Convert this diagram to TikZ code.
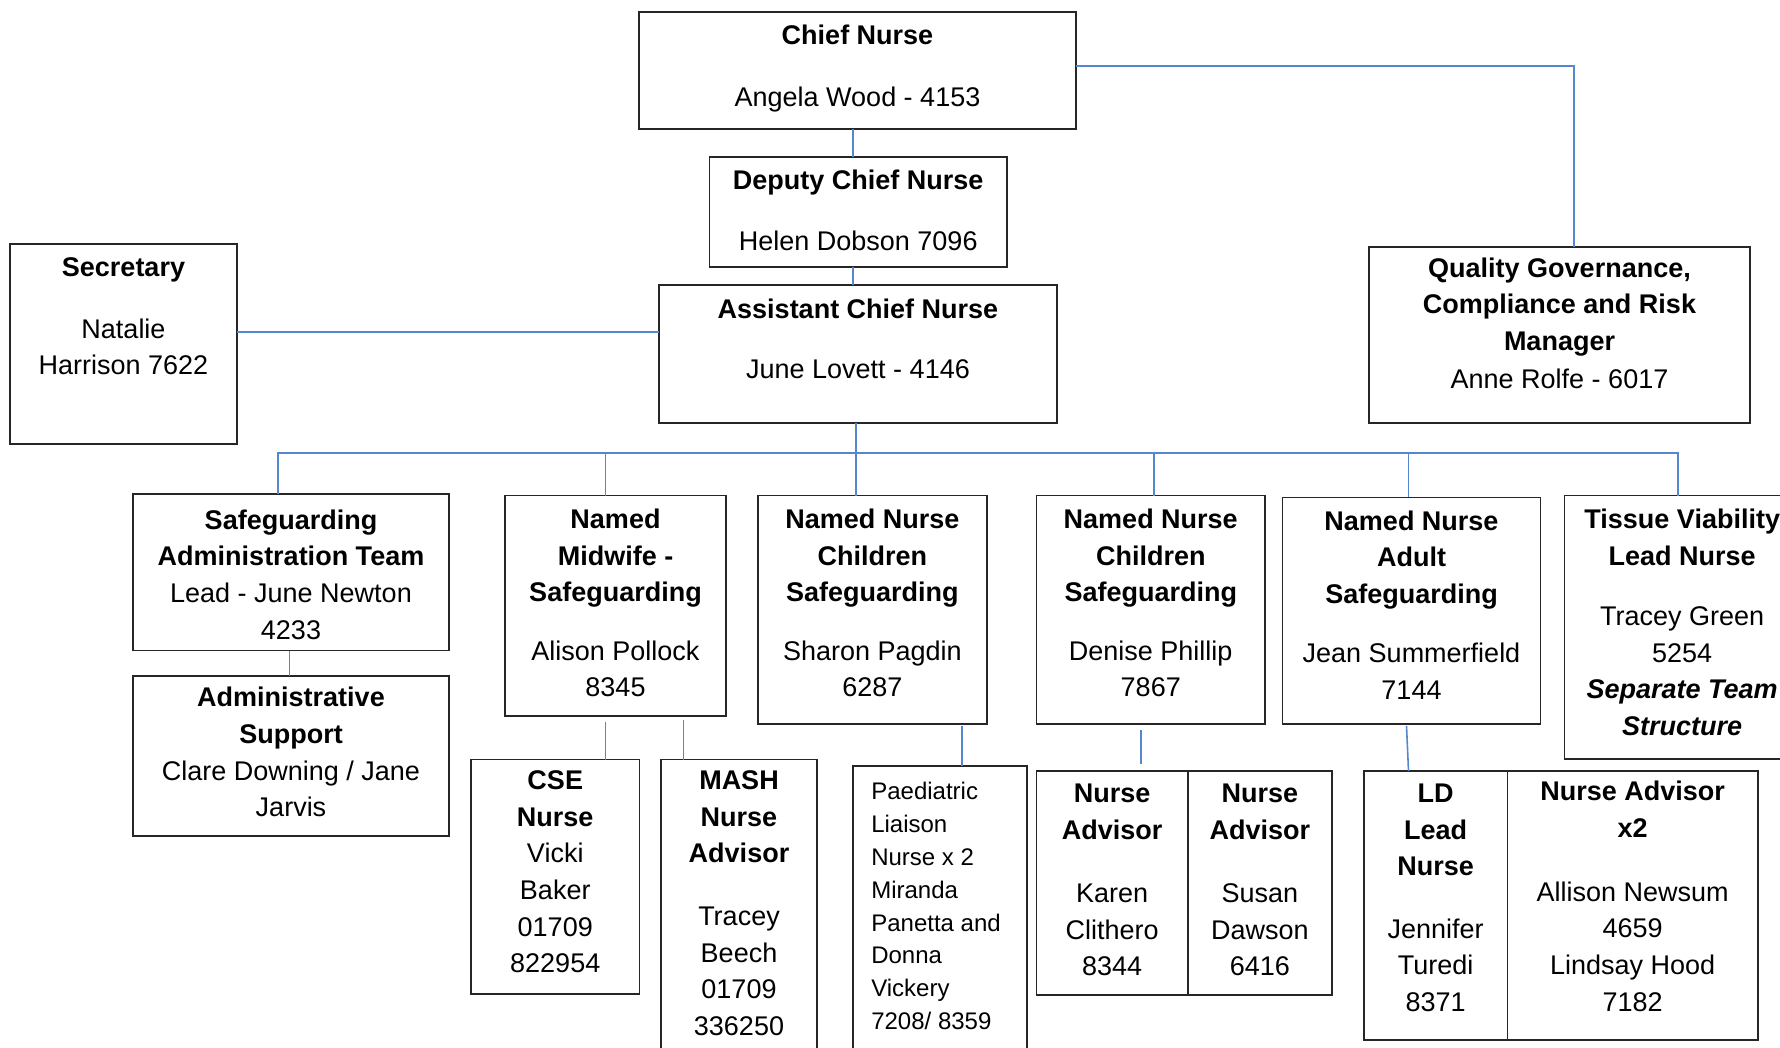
\documentclass[tikz,border=0pt]{standalone}
\usepackage{fontspec}
\setmainfont{Liberation Sans}
\definecolor{connblue}{RGB}{84,135,205}
\newcommand{\bt}[4]{\parbox[c][#2pt][t]{#1pt}{\centering\vspace*{\dimexpr #3pt-\ht\strutbox\relax}\strut #4}}
\tikzset{
  bx/.style={draw=black!85, line width=1.6pt, inner sep=0pt, outer sep=0pt, fill=white, anchor=north west, font=\fontsize{27}{36.6}\selectfont},
  conn/.style={draw=connblue, line width=1.6pt}
}
\begin{document}
\begin{tikzpicture}[x=1pt,y=-1pt]
\useasboundingbox (0,0) rectangle (1780,1048);
\clip (0,0) rectangle (1780,1048);
\coordinate (bus) at (0,453);
% top levels
\node[bx] (chief) at (639,12) {\bt{437}{117}{33}{\textbf{Chief Nurse}\\[25pt]Angela Wood - 4153}};
\node[bx] (dep) at (709.5,157) {\bt{297.5}{110}{33}{\textbf{Deputy Chief Nurse}\\[24pt]Helen Dobson 7096}};
\node[bx] (asst) at (659,285) {\bt{398}{138}{33.3}{\textbf{Assistant Chief Nurse}\\[24pt]June Lovett - 4146}};
\node[bx] (sec) at (10,244) {\bt{227}{200}{32.7}{\textbf{Secretary}\\[25pt]Natalie\\Harrison 7622}};
\node[bx] (qg) at (1369,247) {\bt{381}{176}{30.3}{\textbf{Quality Governance,}\\\textbf{Compliance and Risk}\\\textbf{Manager}\\[1.5pt]Anne Rolfe - 6017}};
% second row
\node[bx] (sa) at (133,494) {\bt{316}{156.5}{35.2}{\textbf{Safeguarding}\\\textbf{Administration Team}\\Lead - June Newton\\4233}};
\node[bx] (as) at (133,676) {\bt{316}{160}{30.8}{\textbf{Administrative}\\\textbf{Support}\\Clare Downing / Jane\\Jarvis}};
\node[bx] (mw) at (505,495.5) {\bt{221}{220.2}{32.9}{\textbf{Named}\\\textbf{Midwife -}\\\textbf{Safeguarding}\\[22pt]Alison Pollock\\8345}};
\node[bx] (nnc1) at (758,495.5) {\bt{228.7}{228.5}{32.9}{\textbf{Named Nurse}\\\textbf{Children}\\\textbf{Safeguarding}\\[22pt]Sharon Pagdin\\6287}};
\node[bx] (nnc2) at (1036.5,495.5) {\bt{228.5}{228.5}{32.9}{\textbf{Named Nurse}\\\textbf{Children}\\\textbf{Safeguarding}\\[22pt]Denise Phillip\\7867}};
\node[bx] (nna) at (1282.5,497.4) {\bt{258}{226.6}{32.6}{\textbf{Named Nurse}\\\textbf{Adult}\\\textbf{Safeguarding}\\[22.6pt]Jean Summerfield\\7144}};
\node[bx] (tv) at (1564.4,495.5) {\bt{235.6}{263.5}{32.9}{\textbf{Tissue Viability}\\\textbf{Lead Nurse}\\[24pt]Tracey Green\\5254\\\textbf{\textit{Separate Team}}\\\textbf{\textit{Structure}}}};
% third row
\node[bx] (cse) at (471,759.5) {\bt{168.5}{234.2}{30.2}{\textbf{CSE}\\\textbf{Nurse}\\Vicki\\Baker\\01709\\822954}};
\node[bx] (mash) at (661,759.5) {\bt{156}{310}{30.2}{\textbf{MASH}\\\textbf{Nurse}\\\textbf{Advisor}\\[26pt]Tracey\\Beech\\01709\\336250}};
\node[bx] (paed) at (852.8,765.7) {\parbox[c][300pt][t]{174pt}{\fontsize{24}{32.8}\selectfont\raggedright\leftskip=18.5pt\vspace*{\dimexpr 34.1pt-\ht\strutbox\relax}\strut Paediatric\\Liaison\\Nurse x 2\\Miranda\\Panetta and\\Donna\\Vickery\\7208/ 8359}};
\node[bx] (nal) at (1036.5,770.8) {\bt{151.2}{224.2}{31.7}{\textbf{Nurse}\\\textbf{Advisor}\\[27pt]Karen\\Clithero\\8344}};
\node[bx] (nar) at (1187.7,770.8) {\bt{144.3}{224.2}{31.7}{\textbf{Nurse}\\\textbf{Advisor}\\[27pt]Susan\\Dawson\\6416}};
\node[bx] (ldl) at (1364,771) {\bt{143.4}{269}{31.5}{\textbf{LD}\\\textbf{Lead}\\\textbf{Nurse}\\[25.8pt]Jennifer\\Turedi\\8371}};
\node[bx] (ldr) at (1507.4,771) {\bt{250.6}{269}{29.6}{\textbf{Nurse Advisor}\\\textbf{x2}\\[27.4pt]Allison Newsum\\4659\\Lindsay Hood\\7182}};
% connectors
\draw[conn] ([xshift=-4.5pt]chief.south) -- ([xshift=-4.5pt]chief.south |- dep.north);
\draw[conn] ([xshift=-5pt]dep.south) -- ([xshift=-5pt]dep.south |- asst.north);
\draw[conn] ([yshift=4.5pt]chief.east) -| ([xshift=14.5pt]qg.north);
\draw[conn] ([yshift=12pt]sec.east) -- ([yshift=12pt]sec.east -| asst.west);
\draw[conn] ([xshift=-2pt]asst.south) -- ([xshift=-2pt]asst.south |- nnc1.north);
\draw[conn] ([xshift=-13pt]sa.north) -- ([xshift=-13pt]sa.north |- bus) -- ([xshift=-4pt]tv.north |- bus) -- ([xshift=-4pt]tv.north);
\draw[conn] ([xshift=-10pt]mw.north |- bus) -- ([xshift=-10pt]mw.north);
\draw[conn] ([xshift=3.3pt]nnc2.north |- bus) -- ([xshift=3.3pt]nnc2.north);
\draw[conn] ([xshift=-3pt]nna.north |- bus) -- ([xshift=-3pt]nna.north);
\draw[conn] ([xshift=-1.5pt]sa.south) -- ([xshift=-1.5pt]sa.south |- as.north);
\draw[conn] ([xshift=-10pt,yshift=-6pt]mw.south) -- ([xshift=-10pt]mw.south |- cse.north);
\draw[conn] ([xshift=68pt,yshift=-4pt]mw.south) -- ([xshift=68pt]mw.south |- mash.north);
\draw[conn] ([xshift=89.6pt,yshift=-2pt]nnc1.south) -- ([xshift=89.6pt]nnc1.south |- paed.north);
\path ([xshift=-10pt]nnc2.south |- nal.north) coordinate (naTop);
\draw[conn] ([xshift=-10pt,yshift=-6pt]nnc2.south) -- ([yshift=7pt]naTop);
\draw[conn] ([xshift=-5pt,yshift=-2pt]nna.south) -- ([xshift=-3pt]nna.south |- ldl.north);
\end{tikzpicture}
\end{document}
